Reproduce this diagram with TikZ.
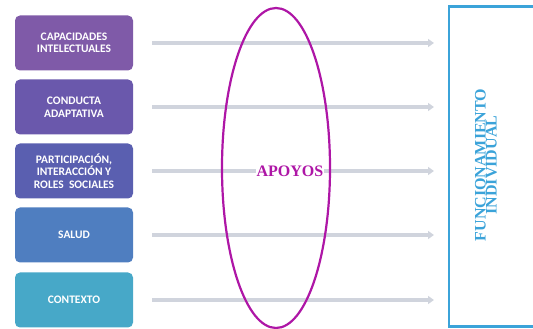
\documentclass[tikz,border=0pt]{standalone}
\usepackage{fontspec}
\setmainfont{Liberation Serif}
\newfontfamily\boxfont{Carlito Bold}
\usetikzlibrary{arrows.meta,shapes.geometric}
\definecolor{cA}{HTML}{7F5AA8}
\definecolor{cB}{HTML}{6A58AC}
\definecolor{cC}{HTML}{5A5FB0}
\definecolor{cD}{HTML}{4F7EC0}
\definecolor{cE}{HTML}{47A8C8}
\definecolor{arrowgray}{HTML}{D0D4DD}
\definecolor{mag}{HTML}{AE16A6}
\definecolor{fblue}{HTML}{3BA3D9}
\tikzset{
  factor/.style={rounded corners=5pt, minimum width=118pt, minimum height=55pt,
    inner sep=0pt, text=white, align=center,
    font=\boxfont\fontsize{11.5}{12.5}\selectfont},
  flow/.style={draw=arrowgray, line width=4pt, -{Triangle[length=6pt,width=8pt]}}
}
\begin{document}
\begin{tikzpicture}[x=1pt,y=1pt]
\useasboundingbox (0,0) rectangle (533,329);
\clip (0,0) rectangle (533,329);
% factor boxes
\node[factor, fill=cA] (f1) at (74,286) {CAPACIDADES\\INTELECTUALES};
\node[factor, fill=cB] (f2) at (74,222) {CONDUCTA\\ADAPTATIVA};
\node[factor, fill=cC] (f3) at (74,158) {PARTICIPACIÓN,\\INTERACCIÓN Y\\ROLES\ \ SOCIALES};
\node[factor, fill=cD] (f4) at (74,94) {SALUD};
\node[factor, fill=cE] (f5) at (74,29) {CONTEXTO};
% arrow ends
\coordinate (s1) at (152,286); \coordinate (e1) at (434,286);
\coordinate (s2) at (152,222); \coordinate (e2) at (434,222);
\coordinate (s3) at (152,158); \coordinate (e3) at (434,158);
\coordinate (s4) at (152,94);  \coordinate (e4) at (434,94);
\coordinate (s5) at (152,29);  \coordinate (e5) at (434,29);
\foreach \i in {1,...,5} { \draw[flow] (s\i) -- (e\i); }
% ellipse of supports
\node[draw=mag, line width=2.2pt, ellipse, minimum width=108pt, minimum height=320pt, inner sep=0pt] (apoyos) at (276,161) {};
\node[text=mag, font=\bfseries\fontsize{16}{16}\selectfont, fill=white, inner sep=1pt] (apt) at (290,158) {APOYOS};
% functioning box
\node[draw=fblue, line width=2.5pt, minimum width=95pt, minimum height=320pt, inner sep=0pt, anchor=south west] (func) at (447.5,1) {};
\node[text=fblue, rotate=90, align=center, font=\bfseries\fontsize{16}{11}\selectfont] (ft) at (486,164) {FUNCIONAMIENTO\\INDIVIDUAL};
\end{tikzpicture}
\end{document}
